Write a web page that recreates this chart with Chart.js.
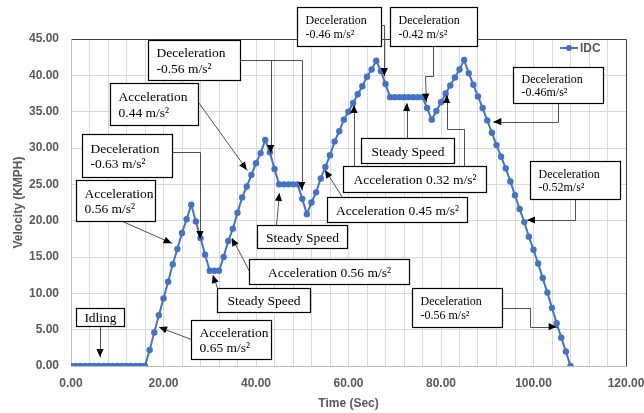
<!DOCTYPE html>
<html><head><meta charset="utf-8">
<script src="https://cdn.jsdelivr.net/npm/chart.js@4.4.1/dist/chart.umd.min.js"></script>
<style>html,body{margin:0;padding:0;background:#fff;}#wrap{width:644px;height:413px;}</style>
</head><body><div id="wrap"><canvas id="c" width="644" height="413"></canvas></div>
<script>
// ---- data ----
const seriesLabel = 'IDC';
const times = [0,1,2,3,4,5,6,7,8,9,10,11,12,13,14,15,16,17,18,19,20,21,22,23,24,25,26,27,28,29,30,31,32,33,34,35,36,37,38,39,40,41,42,43,44,45,46,47,48,49,50,51,52,53,54,55,56,57,58,59,60,61,62,63,64,65,66,67,68,69,70,71,72,73,74,75,76,77,78,79,80,81,82,83,84,85,86,87,88,89,90,91,92,93,94,95,96,97,98,99,100,101,102,103,104,105,106,107,108];
const velocity = [0,0,0,0,0,0,0,0,0,0,0,0,0,0,0,0,0,
  2.2,4.6,7.0,9.3,11.6,14.0,16.1,18.3,20.2,22.2,
  19.9,17.6,15.3,13.1,13.1,13.1,
  15.0,17.2,18.9,21.1,23.2,24.7,26.3,27.9,29.3,31.1,
  29.4,27.1,25.0,25.0,25.0,25.0,25.0,
  23.0,20.9,
  22.5,23.9,25.8,27.4,29.0,30.9,32.3,33.9,35.0,36.2,37.4,38.5,39.8,40.8,42.0,
  40.6,38.8,
  37.0,37.0,37.0,37.0,37.0,37.0,37.0,37.0,
  35.5,33.9,
  35.1,36.3,37.5,38.6,39.7,40.8,42.1,
  40.3,38.7,37.1,35.5,33.8,32.1,30.4,28.8,27.2,25.4,23.5,21.6,19.8,17.8,16.0,14.1,12.1,10.1,8.0,5.9,3.9,2.0,0];
const xLabeledTicks = [0,20,40,60,80,100,120];
const xTitle = 'Time (Sec)';
const yTitle = 'Velocity (KMPH)';

// ---- callouts (box corners and connector paths in data units: [time, velocity]) ----
const callouts = [
  {box:[1.08,7.98,11.46,5.50], lines:['Idling'], size:13.5, paths:[[[6.27,5.50],[6.27,1.24]]]},
  {box:[25.95,6.33,43.24,0.96], lines:['Acceleration','0.65 m/s\u00B2'], size:13.5, paths:[[[25.95,3.72],[19.03,5.37]]]},
  {box:[1.08,25.60,18.16,19.95], lines:['Acceleration','0.56 m/s\u00B2'], size:13.5, paths:[[[10.96,19.95],[21.77,16.89]]]},
  {box:[2.38,31.93,21.84,26.01], lines:['Deceleration','-0.63 m/s\u00B2'], size:13.5, paths:[[[21.84,29.45],[27.89,29.45],[27.89,17.48]]]},
  {box:[8.43,38.94,27.46,33.17], lines:['Acceleration','0.44 m/s\u00B2'], size:13.5, paths:[[[27.46,36.33],[37.99,26.97]]]},
  {box:[16.65,44.86,36.54,39.36], lines:['Deceleration','-0.56 m/s\u00B2'], size:13.5, paths:[[[36.54,42.11],[49.88,42.11],[49.88,24.22]],[[43.18,42.11],[43.18,29.31]]]},
  {box:[40.22,19.40,59.68,16.24], lines:['Steady Speed'], size:13.5, paths:[[[44.32,19.40],[45.04,23.81]]]},
  {box:[38.49,14.72,73.08,11.28], lines:['Acceleration 0.56 m/s\u00B2'], size:13.5, paths:[[[38.49,13.07],[34.75,17.61]]]},
  {box:[31.57,10.73,51.68,7.43], lines:['Steady Speed'], size:13.5, paths:[[[31.57,10.73],[30.64,12.52]]]},
  {box:[48.86,49.40,67.05,44.04], lines:['Deceleration','-0.46 m/s\u00B2'], size:12, paths:[[[67.05,46.9],[67.74,46.9],[67.74,39.91]]]},
  {box:[68.97,49.40,87.78,44.04], lines:['Deceleration','-0.42 m/s\u00B2'], size:12, paths:[[[78.34,44.04],[78.34,39.91],[76.61,39.91],[76.76,36.37]]]},
  {box:[62.70,31.38,82.81,27.94], lines:['Steady Speed'], size:13.5, paths:[[[72.58,31.38],[72.58,36.19]]]},
  {box:[58.81,27.52,89.73,23.94], lines:['Acceleration 0.32 m/s\u00B2'], size:13.5, paths:[[[61.19,27.52],[61.19,35.92]],[[84.97,27.52],[84.97,32.57],[81.23,32.57],[81.23,37.29]]]},
  {box:[55.35,23.26,85.62,19.82], lines:['Acceleration 0.45 m/s\u00B2'], size:13.5, paths:[[[58.53,23.26],[54.92,26.97]]]},
  {box:[95.57,41.15,115.03,36.19], lines:['Deceleration','-0.46m/s\u00B2'], size:12, paths:[[[105.36,36.19],[105.36,33.62],[91.31,33.62]]]},
  {box:[99.24,28.21,118.7,22.98], lines:['Deceleration','-0.52m/s\u00B2'], size:12, paths:[[[108.97,22.98],[108.97,20.09],[98.59,20.09]]]},
  {box:[73.73,10.73,93.19,5.37], lines:['Deceleration','-0.56 m/s\u00B2'], size:12, paths:[[[93.19,7.98],[99.24,7.98],[99.24,5.41],[105.0,5.41]]]}
];

const lineColor = '#4472C4';
const axisTextColor = '#595959';
const tickFont = {family:'Liberation Sans', size:12, weight:'bold'};

const framePlugin = {
  id:'frame',
  beforeDatasetsDraw(chart){
    const {ctx, chartArea:a} = chart;
    ctx.save();
    ctx.lineWidth = 1;
    ctx.strokeStyle = '#404040';
    ctx.beginPath();
    ctx.moveTo(Math.round(a.left)+0.5, Math.round(a.top)+0.5);
    ctx.lineTo(Math.round(a.right)+0.5, Math.round(a.top)+0.5);
    ctx.lineTo(Math.round(a.right)+0.5, Math.round(a.bottom)+0.5);
    ctx.stroke();
    ctx.strokeStyle = '#bfbfbf';
    ctx.beginPath();
    ctx.moveTo(Math.round(a.left)+0.5, Math.round(a.top)+0.5);
    ctx.lineTo(Math.round(a.left)+0.5, Math.round(a.bottom)+0.5);
    ctx.lineTo(Math.round(a.right)+0.5, Math.round(a.bottom)+0.5);
    ctx.stroke();
    ctx.restore();
  }
};

function arrowHead(ctx, x0, y0, x1, y1){
  const ang = Math.atan2(y1-y0, x1-x0);
  const L = 8, W = 3.6;
  ctx.beginPath();
  ctx.moveTo(x1, y1);
  ctx.lineTo(x1 - L*Math.cos(ang) + W*Math.sin(ang), y1 - L*Math.sin(ang) - W*Math.cos(ang));
  ctx.lineTo(x1 - L*Math.cos(ang) - W*Math.sin(ang), y1 - L*Math.sin(ang) + W*Math.cos(ang));
  ctx.closePath();
  ctx.fill();
}

const calloutPlugin = {
  id:'callouts',
  afterDraw(chart){
    const {ctx, scales:{x, y}, chartArea:a} = chart;
    const P = p => [x.getPixelForValue(p[0]), y.getPixelForValue(p[1])];
    ctx.save();
    callouts.forEach(c => {
      ctx.strokeStyle = '#505050';
      ctx.fillStyle = '#000';
      ctx.lineWidth = 1;
      c.paths.forEach(path => {
        const pts = path.map(P);
        ctx.beginPath();
        pts.forEach((p,i) => {
          const px = Math.round(p[0])+0.5, py = Math.round(p[1])+0.5;
          if (i===0) ctx.moveTo(px,py); else ctx.lineTo(px,py);
        });
        ctx.stroke();
        const n = pts.length;
        arrowHead(ctx, pts[n-2][0], pts[n-2][1], pts[n-1][0], pts[n-1][1]);
      });
      const [l, t] = P([c.box[0], c.box[1]]);
      const [r, b] = P([c.box[2], c.box[3]]);
      const L = Math.round(l)+0.5, T = Math.round(t)+0.5, R = Math.round(r)+0.5, B = Math.round(b)+0.5;
      ctx.fillStyle = '#ffffff';
      ctx.fillRect(L, T, R-L, B-T);
      ctx.strokeStyle = '#000000';
      ctx.lineWidth = 1.2;
      ctx.strokeRect(L, T, R-L, B-T);
      ctx.fillStyle = '#000000';
      ctx.font = c.size + 'px "Liberation Serif"';
      ctx.textBaseline = 'alphabetic';
      const lh = c.size * 1.13;
      const total = lh * c.lines.length;
      let base = T + ((B-T) - total)/2 + lh*0.8;
      const pad = c.pad !== undefined ? c.pad : 8;
      c.lines.forEach(txt => {
        if (c.lines.length === 1) {
          ctx.textAlign = 'center';
          ctx.fillText(txt, (L+R)/2, base);
        } else {
          ctx.textAlign = 'left';
          ctx.fillText(txt, L + pad, base);
        }
        base += lh;
      });
    });
    const lx = a.right - 66, ly = a.top + 9;
    ctx.strokeStyle = lineColor; ctx.lineWidth = 2;
    ctx.beginPath(); ctx.moveTo(lx, ly); ctx.lineTo(lx+18, ly); ctx.stroke();
    ctx.fillStyle = lineColor;
    ctx.beginPath(); ctx.arc(lx+9, ly, 3, 0, Math.PI*2); ctx.fill();
    ctx.fillStyle = axisTextColor;
    ctx.font = 'bold 12px "Liberation Sans"';
    ctx.textAlign = 'left'; ctx.textBaseline = 'middle';
    ctx.fillText(chart.data.datasets[0].label, lx + 20, ly + 0.5);
    ctx.restore();
  }
};

new Chart(document.getElementById('c'), {
  type:'line',
  data:{ datasets:[{
    label: seriesLabel,
    data: times.map((t,i) => ({x:t, y:velocity[i]})),
    borderColor: lineColor, backgroundColor: lineColor,
    borderWidth: 2, pointRadius: 3.2, pointHoverRadius: 3.2, pointBorderWidth: 0,
    pointBackgroundColor: lineColor, tension: 0
  }]},
  options:{
    responsive:false, animation:false, devicePixelRatio:1,
    layout:{autoPadding:false, padding:{left:0, right:18, top:39, bottom:0}},
    plugins:{legend:{display:false}, tooltip:{enabled:false}},
    scales:{
      x:{
        type:'linear', min:0, max:120,
        ticks:{stepSize:4, autoSkip:false, maxRotation:0, minRotation:0, padding:10, color:axisTextColor, font:tickFont,
          callback: v => xLabeledTicks.includes(v) ? v.toFixed(2) : ''},
        grid:{color:'#d9d9d9', drawTicks:false},
        border:{display:false},
        title:{display:true, text:xTitle, color:axisTextColor, font:tickFont, padding:{top:0, bottom:2}},
        afterFit: s => { s.height = 47; s.paddingLeft = 0; s.paddingRight = 0; }
      },
      y:{
        min:0, max:45,
        ticks:{stepSize:5, padding:12, color:axisTextColor, font:tickFont, callback: v => v.toFixed(2)},
        grid:{color:'#d9d9d9', drawTicks:false},
        border:{display:false},
        title:{display:true, text:yTitle, color:axisTextColor, font:tickFont, padding:{top:11, bottom:0}},
        afterFit: s => { s.width = 71; s.paddingTop = 0; s.paddingBottom = 0; }
      }
    }
  },
  plugins:[framePlugin, calloutPlugin]
});
</script>
</body></html>
